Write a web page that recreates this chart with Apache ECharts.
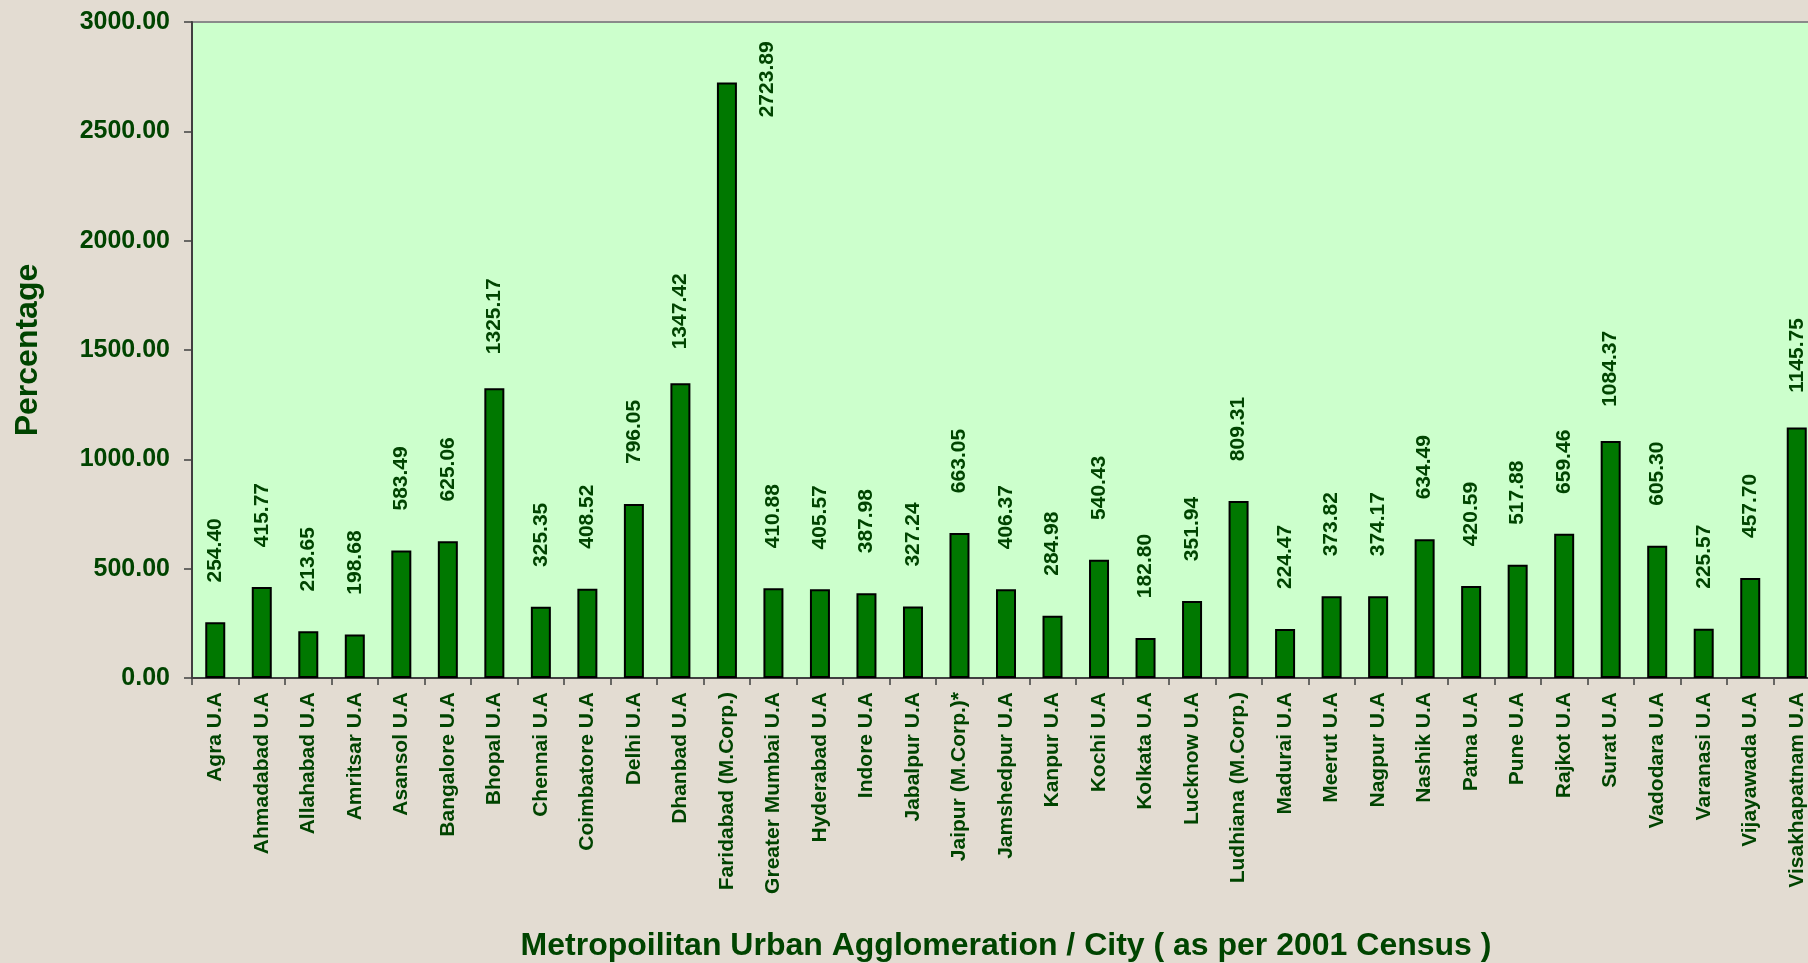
<!DOCTYPE html>
<html>
<head>
<meta charset="utf-8">
<style>
html,body{margin:0;padding:0;background:#e3dcd2;}
#chart{width:1808px;height:963px;}
</style>
<script src="https://cdn.jsdelivr.net/npm/echarts@6/dist/echarts.min.js"></script>
</head>
<body>
<div id="chart"></div>
<script>
const categories = ["Agra U.A","Ahmadabad U.A","Allahabad U.A","Amritsar U.A","Asansol U.A","Bangalore U.A","Bhopal U.A","Chennai U.A","Coimbatore U.A","Delhi U.A","Dhanbad U.A","Faridabad (M.Corp.)","Greater Mumbai U.A","Hyderabad U.A","Indore U.A","Jabalpur U.A","Jaipur (M.Corp.)*","Jamshedpur U.A","Kanpur U.A","Kochi U.A","Kolkata U.A","Lucknow U.A","Ludhiana (M.Corp.)","Madurai U.A","Meerut U.A","Nagpur U.A","Nashik U.A","Patna U.A","Pune U.A","Rajkot U.A","Surat U.A","Vadodara U.A","Varanasi U.A","Vijayawada U.A","Visakhapatnam U.A"];
const values = [254.40,415.77,213.65,198.68,583.49,625.06,1325.17,325.35,408.52,796.05,1347.42,2723.89,410.88,405.57,387.98,327.24,663.05,406.37,284.98,540.43,182.80,351.94,809.31,224.47,373.82,374.17,634.49,420.59,517.88,659.46,1084.37,605.30,225.57,457.70,1145.75];
const yTicks = [0,500,1000,1500,2000,2500,3000];
const xTitle = "Metropoilitan Urban Agglomeration / City ( as per 2001 Census )";
const yTitle = "Percentage";

const txt = '#004400';
const font = '"Liberation Sans", Arial, sans-serif';
const maxV = Math.max(...values);

const chart = echarts.init(document.getElementById('chart'), null, {renderer:'canvas'});
chart.setOption({
  backgroundColor: '#e3dcd2',
  animation: false,
  textStyle: {fontFamily: font},
  grid: {left:192, top:22, width:1628, height:656, show:true, backgroundColor:'#ccffcc', borderColor:'#8a8a8a', borderWidth:2, containLabel:false, outerBoundsMode:'none'},
  xAxis: {
    type:'category', data:categories,
    axisLine:{lineStyle:{color:'#404040', width:2}},
    axisTick:{show:true, length:7, lineStyle:{color:'#404040', width:1.5}},
    axisLabel:{interval:0, rotate:90, margin:14, color:txt, fontWeight:'bold', fontSize:21, fontFamily:font},
    name:xTitle, nameLocation:'middle', nameGap:252,
    nameTextStyle:{color:txt, fontWeight:'bold', fontSize:32, fontFamily:font}
  },
  yAxis: {
    type:'value', min:yTicks[0], max:yTicks[yTicks.length-1], interval:yTicks[1]-yTicks[0],
    splitLine:{show:false},
    axisLine:{show:true, lineStyle:{color:'#404040', width:2}},
    axisTick:{show:true, length:8, lineStyle:{color:'#404040', width:1.5}},
    axisLabel:{margin:22, color:txt, fontWeight:'bold', fontSize:25, fontFamily:font, formatter:v=>v.toFixed(2)},
    name:yTitle, nameLocation:'middle', nameGap:148,
    nameTextStyle:{color:txt, fontWeight:'bold', fontSize:32, fontFamily:font}
  },
  series: [{
    type:'bar', barWidth:20,
    data: values.map(v => v === maxV ? {value:v, label:{position:[50,-3]}} : v),
    itemStyle:{color:'#007800', borderColor:'#000', borderWidth:2},
    label:{show:true, position:'top', distance:72, rotate:90, align:'center', verticalAlign:'middle',
      color:txt, fontSize:21, fontWeight:'bold', fontFamily:font, formatter:p=>p.value.toFixed(2)}
  }]
});
</script>
</body>
</html>
